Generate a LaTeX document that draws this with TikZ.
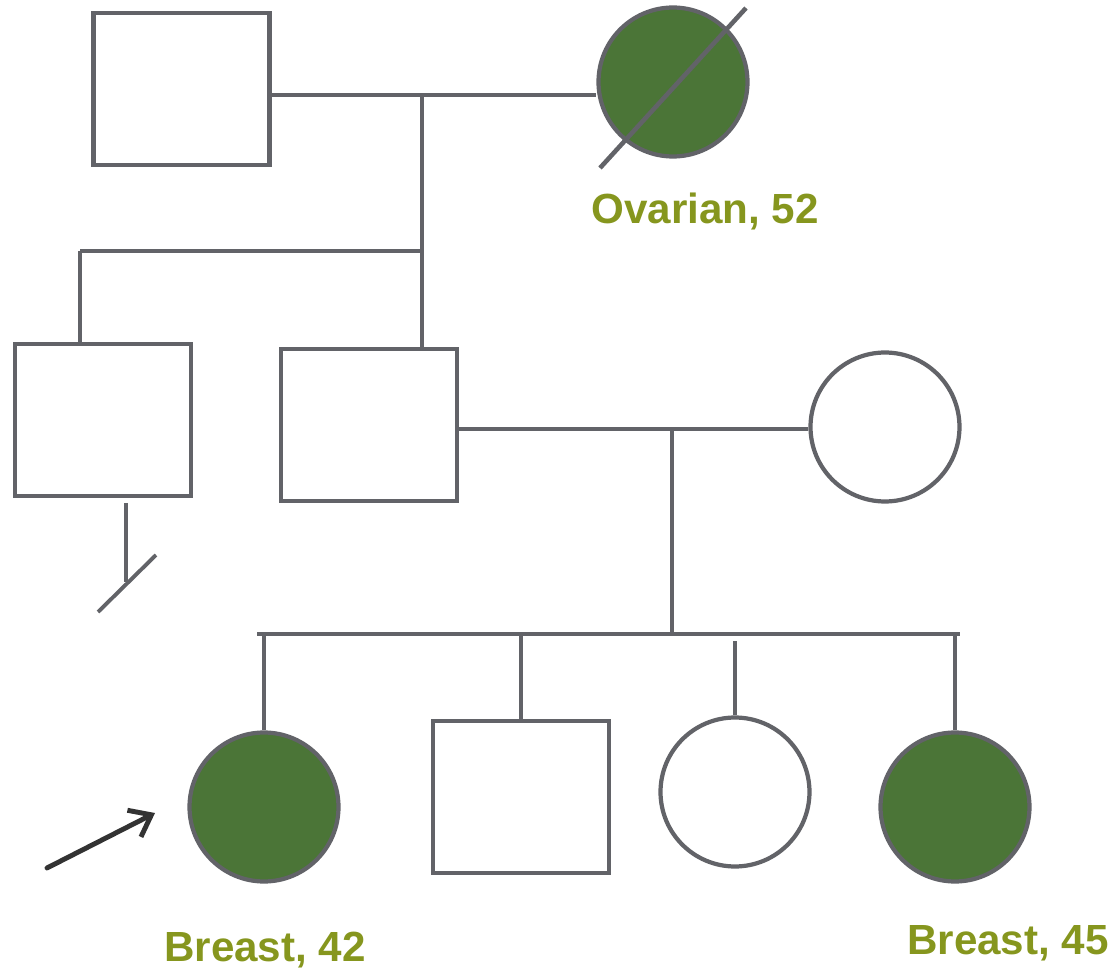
\documentclass[tikz,border=0pt]{standalone}
\usepackage{fontspec}
\setmainfont{Liberation Sans}
\usetikzlibrary{arrows.meta}

\definecolor{pedline}{RGB}{98,99,104}
\definecolor{affected}{RGB}{75,117,55}
\definecolor{labelgreen}{RGB}{134,150,30}
\definecolor{probandarrow}{RGB}{51,51,51}

\tikzset{
  male/.style={draw=pedline,line width=2.4pt,rectangle,minimum width=3.52cm,minimum height=3.04cm,inner sep=0pt},
  female/.style={draw=pedline,line width=2.4pt,circle,minimum size=2.98cm,inner sep=0pt},
  ill/.style={fill=affected},
  link/.style={pedline,line width=2.2pt},
  note/.style={text=labelgreen,font=\fontsize{24}{27}\selectfont\bfseries,inner sep=0pt}
}

\begin{document}
\begin{tikzpicture}[x=0.02cm,y=-0.02cm]  % coordonnées en pixels

    \useasboundingbox (0,0) rectangle (1117,973);

    % Génération I
    \node[male] (gf) at (181.5,89) {};
    \node[female,ill] (gm) at (673,82) {};
    \draw[pedline,line width=2.6pt] (600,168) -- (746,8);
    \node[note] (gmlbl) at (705,211) {Ovarian, 52};

    \coordinate (m1) at (422,95);
    \draw[link] (gf.east |- m1) -- (gm.west |- m1);

    % Génération II
    \node[male] (son1) at (103,420) {};
    \node[male] (son2) at (369,425) {};
    \node[female] (wife) at (885,427) {};

    \coordinate (s1) at (80,251);
    \draw[link] (m1) -- (m1 |- son2.north);
    \draw[link] (s1) -- (m1 |- s1);
    \draw[link] (s1) -- (s1 |- son1.north);

    % pas de descendance
    \coordinate (nd) at (126,582);
    \draw[link] (126,503) -- (nd);
    \draw[link] (98,612) -- (156,555);

    \coordinate (m2) at (672,429);
    \draw[link] (son2.east |- m2) -- (wife.west |- m2);

    % Génération III
    \node[female,ill] (c1) at (264,807) {};
    \node[male] (c2) at (521,797) {};
    \node[female] (c3) at (735,792) {};
    \node[female,ill] (c4) at (955,807) {};

    \coordinate (s2) at (672,634);
    \draw[link] (m2) -- (s2);
    \draw[link] (257,634) -- (960,634);
    \foreach \c in {c1,c2,c4}{
      \draw[link] (\c.north |- s2) -- (\c.north);
    }
    \draw[link] (c3.north |- 0,641) -- (c3.north);

    \node[note] (c1lbl) at (265,950) {Breast, 42};
    \node[note] (c4lbl) at (1008,943) {Breast, 45};

    % proposant
    \coordinate (pa) at (47,868);
    \draw[probandarrow,line width=2.8pt,line cap=round,-{Straight Barb[length=11pt,width=17pt,line width=2.8pt]}] (pa) -- (155,813);

\end{tikzpicture}
\end{document}
